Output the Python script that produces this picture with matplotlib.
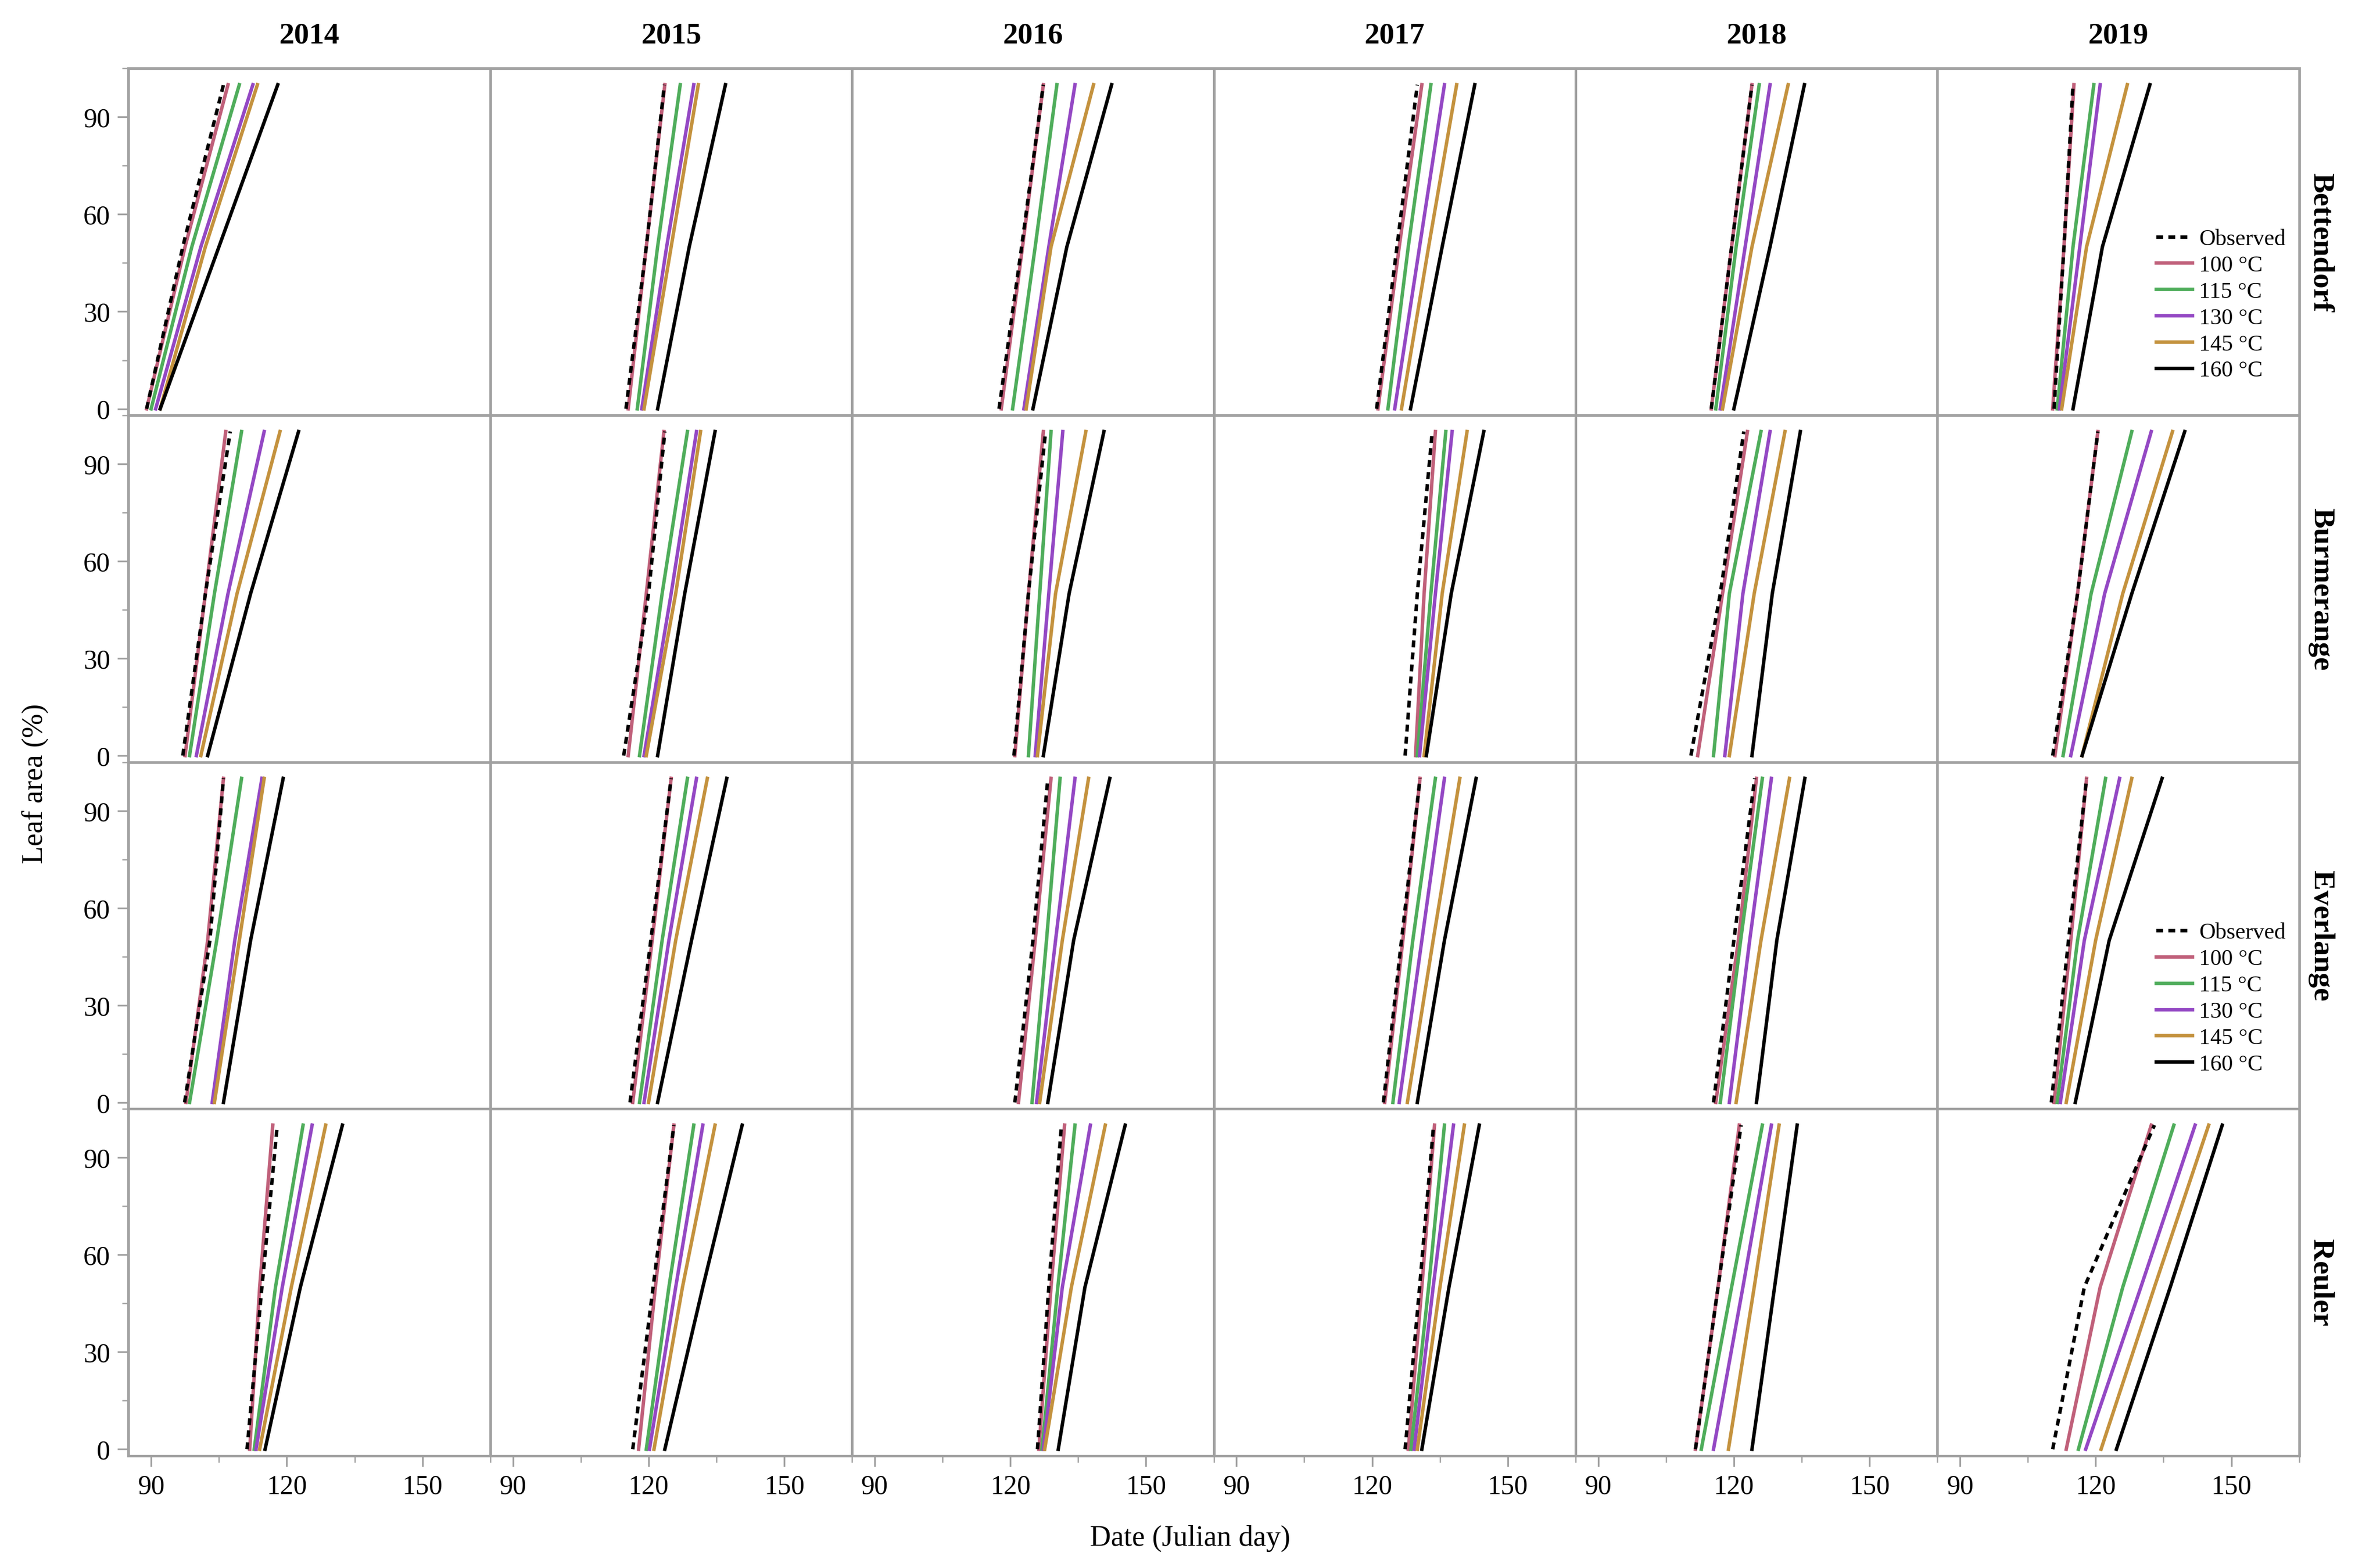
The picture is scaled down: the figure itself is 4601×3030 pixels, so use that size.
import numpy as np
import matplotlib.pyplot as plt
from matplotlib.ticker import MultipleLocator

plt.rcParams['font.family'] = ['Liberation Serif', 'DejaVu Serif']

years = ['2014', '2015', '2016', '2017', '2018', '2019']
sites = ['Bettendorf', 'Burmerange', 'Everlange', 'Reuler']
series = ['Observed', '100 °C', '115 °C', '130 °C', '145 °C', '160 °C']
colors = ['black', '#c0607a', '#4fad5b', '#9448c4', '#c4923e', 'black']
leaf_area = [0, 50, 100]  # y values of each curve

# day of year at leaf area 0, 50, 100 % ; per year, per series (obs,100,115,130,145,160)
bettendorf = [
    [[89, 97, 106], [89, 97.5, 107], [90, 99, 109.5], [91, 101, 112.5], [92, 102, 113.5], [92, 105, 118]],
    [[115, 119.5, 123.5], [115.5, 119.5, 123.6], [117.5, 122, 127], [118.5, 124, 130], [119, 125, 131], [122, 129, 137]],
    [[117.5, 122.5, 127.3], [118, 122.7, 127.3], [120.5, 125.5, 130.3], [123, 128.5, 134.3], [123.5, 129, 138.4], [125, 132.5, 142.4]],
    [[121, 125.5, 130], [121.3, 126, 131], [123.5, 128, 133], [125, 130.5, 136], [126.5, 132.5, 138.7], [128.5, 135.5, 142.7]],
    [[115, 119.5, 124], [115, 119.5, 124], [116, 120.5, 125.6], [117, 122.5, 128], [117.5, 124, 132], [120, 128, 135.6]],
    [[110.8, 113, 115], [110.5, 113, 115.2], [111.5, 115, 119.6], [112, 116.5, 121], [112.5, 118, 127], [115, 121.5, 132]],
]
burmerange = [
    [[97, 102, 107.5], [97.5, 102, 106.5], [98.5, 104, 110], [100, 107, 115], [101, 109, 118.5], [102.5, 112, 122.6]],
    [[114.5, 120, 123.6], [115.5, 119.5, 123.4], [118, 123, 128.6], [119, 125, 130.6], [119.5, 126, 131.5], [122, 128, 134.7]],
    [[120.8, 124, 127.8], [121, 124, 127.3], [124, 126.5, 129], [125.5, 128.5, 131.6], [126, 130, 136.7], [127.3, 133, 140.7]],
    [[127.3, 130, 133.3], [129.6, 131.5, 134], [130, 133, 136.3], [130.5, 134, 137.7], [131.5, 135.5, 141], [132, 137.5, 144.7]],
    [[110.5, 117, 122.2], [112, 117.5, 123], [115.5, 119, 126], [118, 122, 128], [119, 124.5, 131.3], [124, 128.5, 134.7]],
    [[110.5, 116, 120.5], [111, 116, 120.5], [112.8, 119, 128], [114.5, 122, 132.3], [117, 126, 137], [117, 128, 139.7]],
]
everlange = [
    [[97.4, 103, 106], [97.7, 102.5, 106], [98.5, 104.5, 110], [103.5, 108.5, 114.5], [104, 109.5, 115], [106, 112, 119.2]],
    [[115.9, 120.5, 125], [116.5, 120.8, 125], [118, 123, 128.6], [119, 124.5, 130.6], [120, 126, 133], [122, 129.5, 137.3]],
    [[121, 125, 128.3], [121.8, 125.5, 129], [124.8, 128, 131], [125.8, 130, 134.3], [126.5, 131.5, 137.3], [128.3, 134, 142]],
    [[122.5, 126.5, 130.6], [122.8, 126.8, 130.6], [124.6, 129, 134], [126, 131, 136], [127.8, 133.5, 139.4], [130, 136, 143]],
    [[115.5, 120, 124.6], [116, 121, 125], [117, 121.5, 126.3], [119, 123.5, 128.3], [120.5, 126, 132.3], [125, 129.5, 135.7]],
    [[110.2, 114, 118], [110.8, 114.5, 118], [111.5, 116, 122.2], [112.2, 117.5, 125.3], [113.5, 120, 128], [115.5, 123, 134.7]],
]
reuler = [
    [[111.2, 114.5, 117.9], [111.8, 114, 116.9], [112.8, 117.5, 123.6], [113.2, 119, 125.6], [114, 121, 128.6], [115.2, 123, 132.3]],
    [[116.5, 121, 125.6], [117.8, 121.5, 125.6], [119.5, 124.5, 130], [120.2, 126, 132], [121.2, 127.5, 134.7], [123.6, 132, 140.7]],
    [[126, 128.5, 131.3], [126.3, 129, 132], [127, 130.5, 134.3], [127.3, 131.5, 137.7], [127.6, 133.5, 141], [130.6, 136.5, 145.4]],
    [[127.3, 130.5, 133.6], [128, 131, 133.8], [128.6, 132.5, 136], [129.3, 133.5, 138], [130, 135, 140.4], [131, 137, 143.7]],
    [[111.5, 116.5, 121.6], [111.5, 116.5, 121.2], [112.8, 119.5, 126.3], [115.5, 122, 128.3], [118.8, 124.5, 130], [124, 129, 134]],
    [[110.5, 117.5, 133], [113.5, 121, 132.3], [116.2, 126, 137.3], [117.8, 130, 142], [121.2, 133, 145], [124.6, 136.5, 148]],
]
site_data = [bettendorf, burmerange, everlange, reuler]

fig, axes = plt.subplots(4, 6, figsize=(15.337, 10.103), dpi=300, sharex=True, sharey=True)
fig.subplots_adjust(left=0.054, right=0.966, top=0.956, bottom=0.071, wspace=0, hspace=0)

for r, data in enumerate(site_data):
    for c in range(6):
        ax = axes[r, c]
        for k in range(6):
            ls = (0, (2, 1.5)) if k == 0 else '-'
            ax.plot(data[c][k], leaf_area, color=colors[k], lw=1.6, ls=ls, label=series[k],
                    zorder=5 if k == 0 else 3)
        ax.set_xlim(85, 165)
        ax.set_ylim(-2, 105)
        ax.xaxis.set_major_locator(MultipleLocator(30))
        ax.xaxis.set_minor_locator(MultipleLocator(15))
        ax.yaxis.set_major_locator(MultipleLocator(30))
        ax.yaxis.set_minor_locator(MultipleLocator(15))
        for s in ax.spines.values():
            s.set_color('#a0a0a0')
            s.set_linewidth(1.2)
        ax.tick_params(which='both', color='#a0a0a0', labelsize=12.5, direction='out')
        ax.tick_params(which='major', length=5)
        ax.tick_params(which='minor', length=3)
        if c != 0:
            ax.tick_params(axis='y', which='both', left=False)
        if r != 3:
            ax.tick_params(axis='x', which='both', bottom=False)
        if r == 0:
            ax.set_title(years[c], fontsize=14, fontweight='bold', pad=12)
        if c == 5:
            ax.text(1.06, 0.5, sites[r], transform=ax.transAxes, rotation=270,
                    ha='center', va='center', fontsize=14, fontweight='bold')
            if r in (0, 2):
                ax.legend(loc='lower right', bbox_to_anchor=(1.0, 0.06), frameon=False,
                          fontsize=10.5, handlelength=1.6, handletextpad=0.3, labelspacing=0.25,
                          borderaxespad=0.2)

fig.text(0.5, 0.014, 'Date (Julian day)', ha='center', fontsize=13.5)
fig.text(0.009, 0.5, 'Leaf area (%)', va='center', rotation=90, fontsize=13.5)

fig.savefig('out.png', dpi=300)
